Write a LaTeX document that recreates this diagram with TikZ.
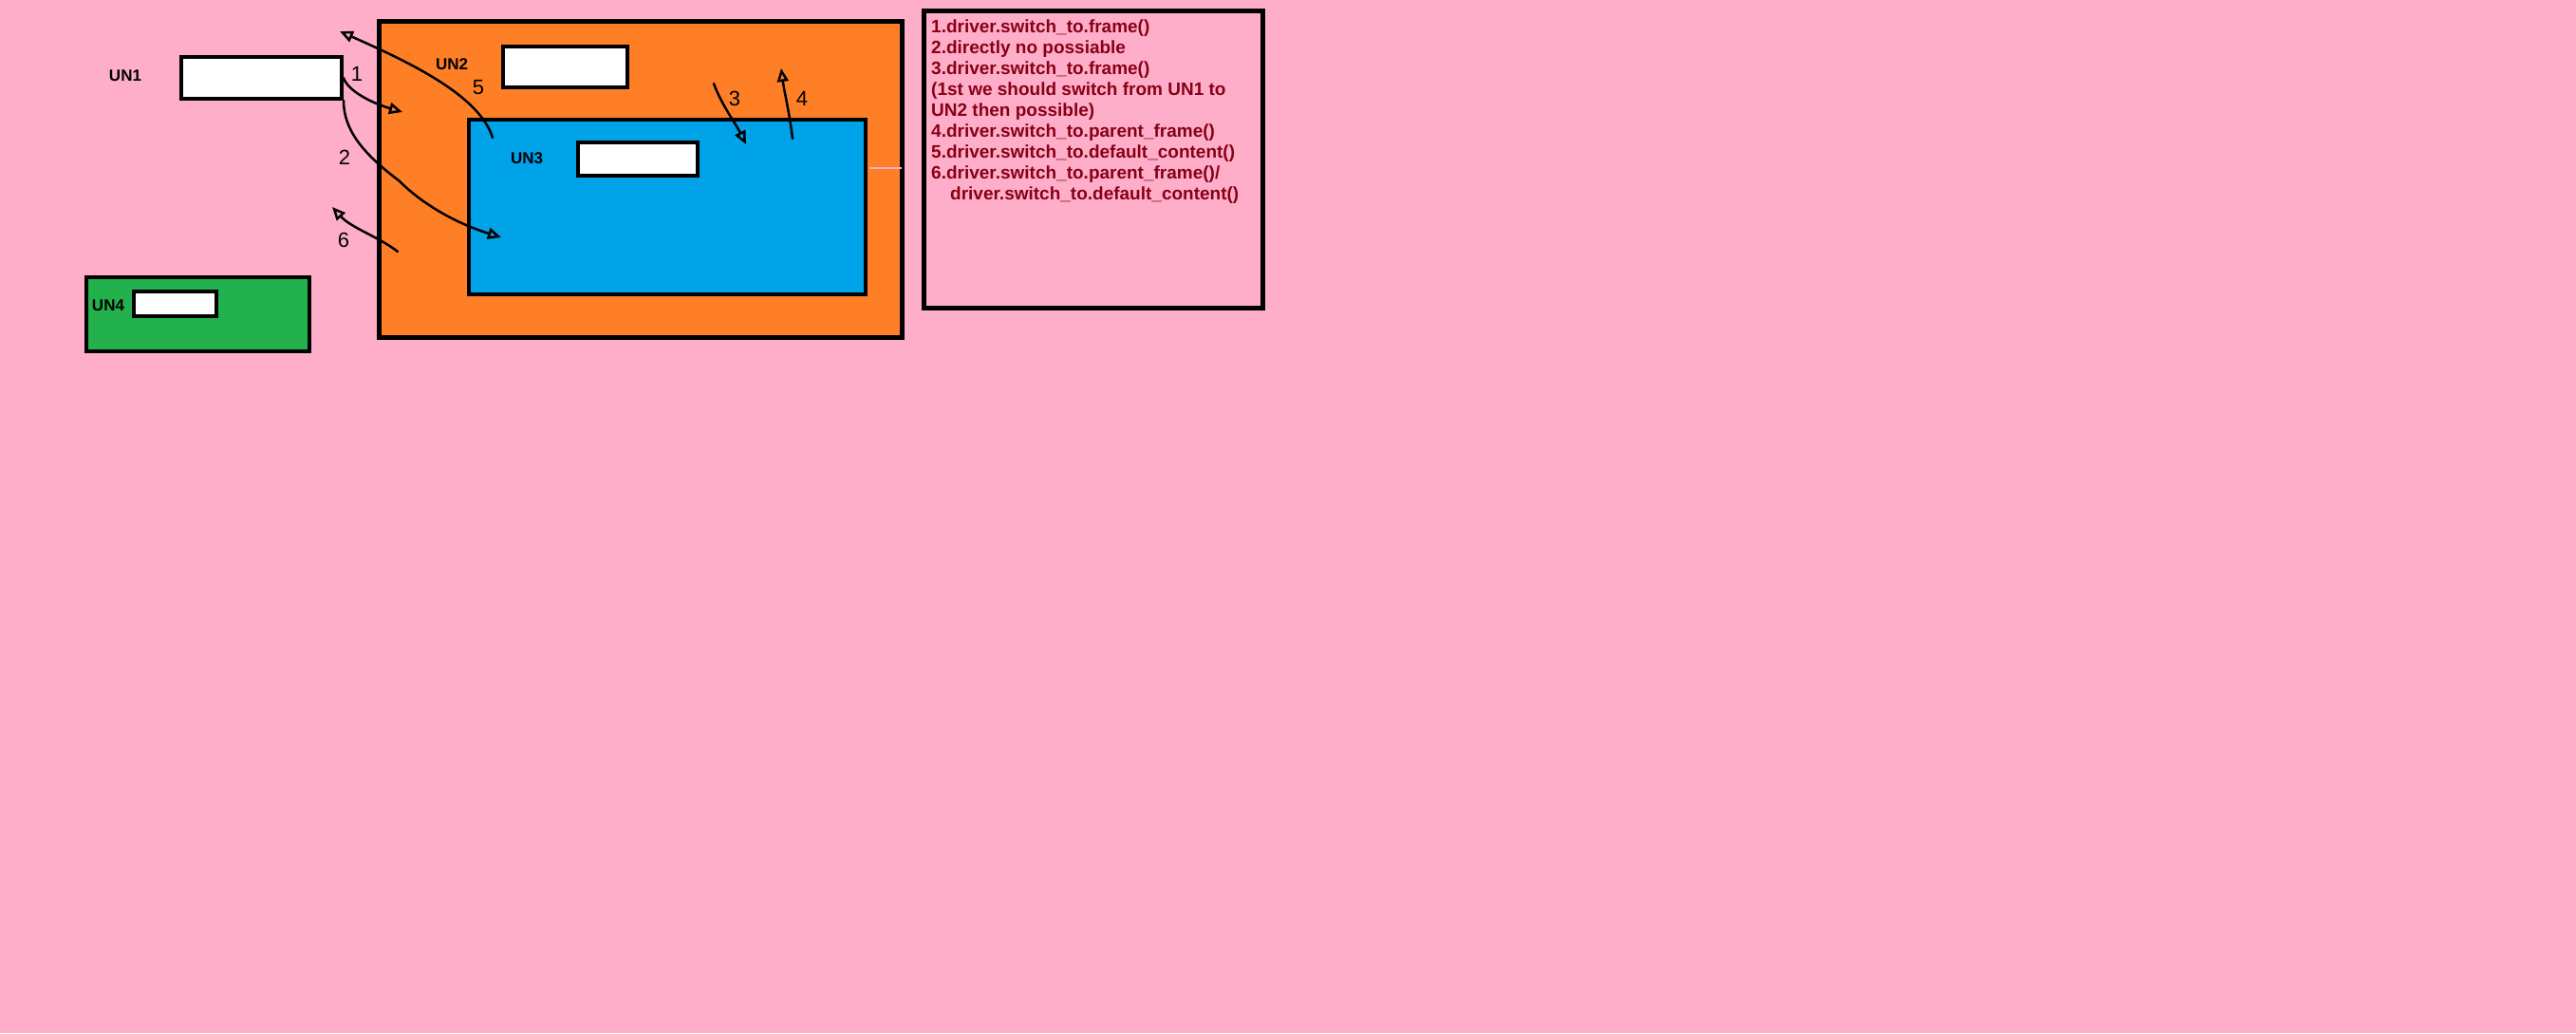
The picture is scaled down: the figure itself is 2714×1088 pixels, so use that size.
\documentclass[tikz,border=0pt]{standalone}
\usepackage{fontspec}
\setsansfont{Liberation Sans}
\usetikzlibrary{arrows.meta}

\definecolor{paintpink}{RGB}{255,174,201}
\definecolor{paintorange}{RGB}{255,127,39}
\definecolor{paintblue}{RGB}{0,162,232}
\definecolor{paintgreen}{RGB}{34,177,76}
\definecolor{paintred}{RGB}{136,0,21}

\begin{document}
\begin{tikzpicture}[x=1pt, y=-1pt,
		frame/.style={draw=black, line width=5pt, inner sep=0pt},
		field/.style={draw=black, fill=white, line width=4pt, inner sep=0pt},
		tag/.style={font=\sffamily\bfseries\fontsize{17}{17}\selectfont, inner sep=0pt},
		hand/.style={font=\sffamily\fontsize{22}{22}\selectfont, inner sep=0pt},
		scribble/.style={line width=2.5pt, line cap=round, -{Triangle[open, length=14pt, width=12pt, line width=2.5pt]}}]
		\fill[paintpink] (0, 0) rectangle (2714, 1088);
		\useasboundingbox (0, 0) rectangle (2714, 1088);

		% frames
		\node[frame, fill=paintorange, minimum width=551, minimum height=333] (un2frame) at (675, 189) {};
		\node[frame, fill=paintblue, line width=4pt, minimum width=418, minimum height=184] (un3frame) at (703, 218) {};
		\draw[paintpink, line width=2pt] (916, 177) -- (950, 177);
		\node[frame, fill=paintgreen, line width=4pt, minimum width=235, minimum height=78] (un4frame) at (208.5, 331) {};

		% fields
		\node[field, minimum width=169, minimum height=44] (un1) at (275.5, 82) {};
		\node[field, minimum width=131, minimum height=43] (un2) at (595.5, 70.5) {};
		\node[field, minimum width=126, minimum height=35] (un3) at (672, 167.5) {};
		\node[field, minimum width=87, minimum height=26] (un4) at (184.5, 320) {};

		\node[tag] (un1tag) at (132, 80) {UN1};
		\node[tag] (un2tag) at (476, 68) {UN2};
		\node[tag] (un3tag) at (555, 167) {UN3};
		\node[tag] (un4tag) at (114, 322) {UN4};

		% switches
		\coordinate (s1) at (424, 118);
		\coordinate (s2) at (528, 250);
		\coordinate (s3a) at (752, 88);
		\coordinate (s3) at (786, 152);
		\coordinate (s4a) at (835, 146);
		\coordinate (s4) at (823, 72);
		\coordinate (s5a) at (519, 145);
		\coordinate (s5) at (358, 33);
		\coordinate (s6a) at (419, 265);
		\coordinate (s6) at (350, 218);

		\draw[scribble] (un1.east) .. controls (366, 95) and (390, 108) .. (s1);
		\draw[scribble] (un1.south east) .. controls (362, 135) and (380, 160) .. (420, 190)
			.. controls (445, 215) and (480, 235) .. (s2);
		\draw[scribble] (s3a) .. controls (760, 110) and (775, 130) .. (s3);
		\draw[scribble] (s4a) .. controls (832, 120) and (826, 95) .. (s4);
		\draw[scribble] (s5a) .. controls (505, 100) and (430, 65) .. (s5);
		\draw[scribble] (s6a) .. controls (400, 250) and (370, 240) .. (s6);

		\node[hand] (n1) at (376, 78) {1};
		\node[hand] (n2) at (363, 166) {2};
		\node[hand] (n3) at (774, 104) {3};
		\node[hand] (n4) at (845, 104) {4};
		\node[hand] (n5) at (504, 92) {5};
		\node[hand] (n6) at (362, 253) {6};

		% notes
		\node[frame, minimum width=357, minimum height=313] (notebox) at (1152, 168) {};
		\node[anchor=north west, inner sep=0pt, align=left, text=paintred,
			font=\sffamily\bfseries\fontsize{19}{22}\selectfont] (notes) at (981, 21) {
			1.driver.switch\_to.frame()\\
			2.directly no possiable\\
			3.driver.switch\_to.frame()\\
			(1st we should switch from UN1 to\\
			UN2 then possible)\\
			4.driver.switch\_to.parent\_frame()\\
			5.driver.switch\_to.default\_content()\\
			6.driver.switch\_to.parent\_frame()/\\
			\hspace*{20pt}driver.switch\_to.default\_content()};
	\end{tikzpicture}
\end{document}
